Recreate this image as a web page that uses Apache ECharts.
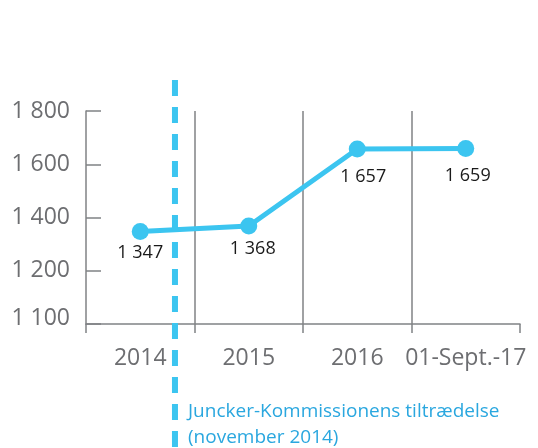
<!DOCTYPE html>
<html>
<head>
<meta charset="utf-8">
<script src="https://cdn.jsdelivr.net/npm/echarts@6/dist/echarts.min.js"></script>
<style>
  html, body { margin: 0; padding: 0; background: #fff; }
  #main { width: 538px; height: 448px; }
</style>
</head>
<body>
<div id="main"></div>
<script>
// data
var categories = ['2014', '2015', '2016', '01-Sept.-17'];
var staffValues = [1347, 1368, 1657, 1659];
var yTickValues = [1000, 1200, 1400, 1600, 1800];
var yTickLabels = ['1 100', '1 200', '1 400', '1 600', '1 800'];
var eventPosition = 0.82; // november 2014, as fraction along the category axis
var eventText = ['Juncker-Kommissionens tiltrædelse', '(november 2014)'];

var chartDom = document.getElementById('main');
var myChart = echarts.init(chartDom);

var grey = '#808285';
var blue = '#3cc5f0';
var fontFamily = '"Open Sans", sans-serif';

function fmtNum(v) {
  return String(v).replace(/\B(?=(\d{3})+(?!\d))/g, ' ');
}

var labelOffsets = [[0, -4], [4, -3], [6, 2], [2, 2]];

var option = {
  animation: false,
  textStyle: { fontFamily: fontFamily },
  grid: { left: 86, right: 18, top: 111, bottom: 124 },
  xAxis: [
    {
      type: 'category',
      data: categories,
      boundaryGap: true,
      axisLine: { show: true, lineStyle: { color: grey, width: 1.5 } },
      axisTick: { show: true, interval: 0, length: 9, lineStyle: { color: grey, width: 1.5 } },
      axisLabel: { interval: 0, color: '#6d6e71', fontSize: 23, margin: 23, fontFamily: fontFamily },
      splitLine: { show: true, interval: 0, showMinLine: false, showMaxLine: false, lineStyle: { color: grey, width: 1.5 } }
    },
    {
      type: 'value',
      min: 0,
      max: categories.length,
      show: false
    }
  ],
  yAxis: {
    type: 'value',
    min: 1000,
    max: 1800,
    interval: 200,
    axisLine: { show: true, lineStyle: { color: grey, width: 1.5 } },
    axisTick: { show: true, inside: true, length: 15, lineStyle: { color: grey, width: 1.5 } },
    axisLabel: {
      color: '#6d6e71',
      fontSize: 23,
      margin: 16,
      fontFamily: fontFamily,
      formatter: function (v) {
        var i = yTickValues.indexOf(v);
        if (i < 0) return '';
        return i === 0 ? '{low|' + yTickLabels[i] + '}' : yTickLabels[i];
      },
      rich: {
        low: { color: '#6d6e71', fontSize: 23, fontFamily: fontFamily, padding: [0, 0, 12, 0] }
      }
    },
    splitLine: { show: false }
  },
  series: [
    {
      type: 'line',
      data: staffValues.map(function (v, i) {
        return { value: v, label: { offset: labelOffsets[i] } };
      }),
      symbol: 'circle',
      symbolSize: 17,
      lineStyle: { color: blue, width: 5 },
      itemStyle: { color: blue },
      label: {
        show: true,
        position: 'bottom',
        distance: 8,
        color: '#1a1a1a',
        fontSize: 18,
        fontFamily: fontFamily,
        formatter: function (p) { return fmtNum(p.value); }
      },
      z: 5
    }
  ]
};

myChart.setOption(option);

// dashed event marker + annotation text
var ex = myChart.convertToPixel({ xAxisIndex: 1 }, eventPosition);
myChart.setOption({
  graphic: [
    {
      type: 'line',
      shape: { x1: ex, y1: 80, x2: ex, y2: 448 },
      style: { stroke: blue, lineWidth: 6, lineDash: [16, 11] },
      z: 10
    },
    {
      type: 'text',
      left: ex + 13,
      top: 399,
      style: {
        text: eventText.join('\n'),
        fill: '#2aa7df',
        fontSize: 19,
        lineHeight: 26,
        fontFamily: fontFamily
      },
      z: 10
    }
  ]
});

window.addEventListener('resize', function () {
  myChart.resize();
});
</script>
</body>
</html>
